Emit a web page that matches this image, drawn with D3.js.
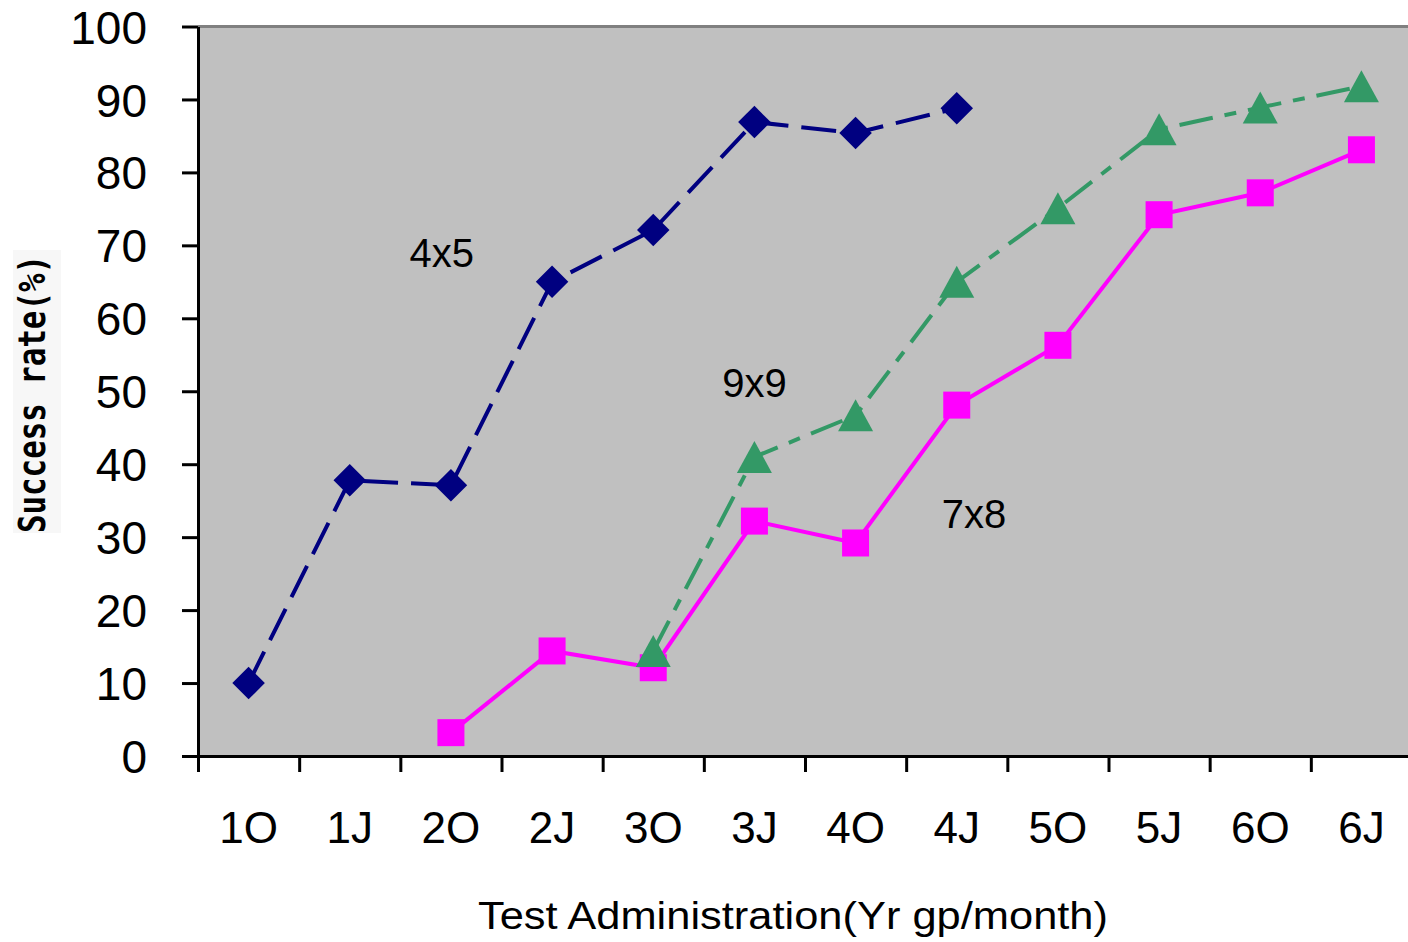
<!DOCTYPE html>
<html>
<head>
<meta charset="utf-8">
<script src="https://cdn.jsdelivr.net/npm/d3@7/dist/d3.min.js"></script>
<style>
  html, body { margin: 0; padding: 0; background: #ffffff; }
  svg { display: block; }
  text { font-family: "Liberation Sans", Arial, sans-serif; fill: #000; }
</style>
</head>
<body>
<svg id="chart" width="1408" height="942"></svg>
<script>
// ---- data ----
const categories = ["1O", "1J", "2O", "2J", "3O", "3J", "4O", "4J", "5O", "5J", "6O", "6J"];
const yTicks = [0, 10, 20, 30, 40, 50, 60, 70, 80, 90, 100];

const s4x5Cats = ["1O", "1J", "2O", "2J", "3O", "3J", "4O", "4J"];
const s4x5Vals = [10.0, 37.8, 37.1, 65.0, 72.1, 86.9, 85.4, 88.8];

const s7x8Cats = ["2O", "2J", "3O", "3J", "4O", "4J", "5O", "5J", "6O", "6J"];
const s7x8Vals = [3.2, 14.4, 12.1, 32.2, 29.2, 48.1, 56.3, 74.2, 77.2, 83.1];

const s9x9Cats = ["3O", "3J", "4O", "4J", "5O", "5J", "6O", "6J"];
const s9x9Vals = [14.4, 41.0, 46.7, 65.0, 75.1, 85.9, 88.9, 91.8];

// series name labels, anchored in data space (category index position, value)
const labelNames = ["4x5", "9x9", "7x8"];
const labelIdx = [2.41, 5.50, 7.67];
const labelVals = [67.0, 49.2, 31.3];

const xTitle = "Test Administration(Yr gp/month)";
const yTitle = "Success rate(%)";

// ---- layout ----
const svg = d3.select("#chart");
const L = 198, R = 1412, T = 26.5, B = 756;

const x = d3.scaleBand().domain(categories).range([L, R]).padding(0);
const xEdge = d3.scaleLinear().domain([0, categories.length]).range([L, R]);
const y = d3.scaleLinear().domain([0, 100]).range([B, T]);

// plot background
svg.append("rect")
  .attr("x", L).attr("y", T).attr("width", R - L).attr("height", B - T)
  .attr("fill", "#C0C0C0");

// top border (grey)
svg.append("line")
  .attr("x1", L).attr("x2", R).attr("y1", T).attr("y2", T)
  .attr("stroke", "#808080").attr("stroke-width", 3);

// Y axis
const yAxis = svg.append("g")
  .attr("transform", `translate(${L},0)`)
  .call(d3.axisLeft(y).tickValues(yTicks).tickSize(16).tickSizeOuter(0).tickPadding(35));
yAxis.select(".domain").attr("stroke", "#000").attr("stroke-width", 3);
yAxis.selectAll(".tick line").attr("stroke", "#000").attr("stroke-width", 3);
yAxis.selectAll(".tick text")
  .style("font-family", '"Liberation Sans", Arial, sans-serif')
  .style("font-size", "46px")
  .attr("dy", "0.36em");

// X axis: ticks on category boundaries
const xAxis = svg.append("g")
  .attr("transform", `translate(0,${B})`)
  .call(d3.axisBottom(xEdge).tickValues(d3.range(categories.length + 1)).tickSize(16).tickSizeOuter(0).tickFormat(""));
xAxis.select(".domain").attr("stroke", "#000").attr("stroke-width", 3);
xAxis.selectAll(".tick line").attr("stroke", "#000").attr("stroke-width", 3);

// X category labels
const xLab = svg.append("g")
  .attr("transform", `translate(0,${B})`)
  .call(d3.axisBottom(x).tickSize(0).tickPadding(0));
xLab.select(".domain").remove();
xLab.selectAll(".tick text")
  .style("font-family", '"Liberation Sans", Arial, sans-serif')
  .style("font-size", "44px")
  .attr("dy", null)
  .attr("y", 87);

// axis titles
svg.append("text")
  .attr("x", 793).attr("y", 929)
  .attr("text-anchor", "middle")
  .attr("textLength", 630).attr("lengthAdjust", "spacingAndGlyphs")
  .style("font-size", "38px")
  .text(xTitle);

svg.append("rect")
  .attr("x", 13).attr("y", 250).attr("width", 48).attr("height", 283)
  .attr("fill", "#F7F7F7");
svg.append("text")
  .attr("transform", "translate(45,394) rotate(-90)")
  .attr("text-anchor", "middle")
  .attr("textLength", 278).attr("lengthAdjust", "spacingAndGlyphs")
  .style("font-size", "38px").style("font-weight", "bold")
  .style("font-family", '"DejaVu Sans Mono", monospace')
  .text(yTitle);

// ---- series ----
const cx = c => x(c) + x.bandwidth() / 2;
const line = d3.line().x(d => cx(d.c)).y(d => y(d.v));
const zip = (cs, vs) => cs.map((c, i) => ({ c: c, v: vs[i] }));

const d45 = zip(s4x5Cats, s4x5Vals);
const d78 = zip(s7x8Cats, s7x8Vals);
const d99 = zip(s9x9Cats, s9x9Vals);

svg.append("path").datum(d78).attr("d", line)
  .attr("fill", "none").attr("stroke", "#FF00FF").attr("stroke-width", 4);
svg.append("path").datum(d99).attr("d", line)
  .attr("fill", "none").attr("stroke", "#339966").attr("stroke-width", 4)
  .attr("stroke-dasharray", "34,12,12,12");
svg.append("path").datum(d45).attr("d", line)
  .attr("fill", "none").attr("stroke", "#000080").attr("stroke-width", 4)
  .attr("stroke-dasharray", "35,13");

// markers
const diamond = d3.symbol().type(d3.symbolSquare).size(23 * 23);
svg.append("g").selectAll("path").data(d45).join("path")
  .attr("d", diamond)
  .attr("transform", d => `translate(${cx(d.c)},${y(d.v)}) rotate(45)`)
  .attr("fill", "#000080");

svg.append("g").selectAll("rect").data(d78).join("rect")
  .attr("x", d => cx(d.c) - 13.5).attr("y", d => y(d.v) - 13.5)
  .attr("width", 27).attr("height", 27)
  .attr("fill", "#FF00FF");

svg.append("g").selectAll("path").data(d99).join("path")
  .attr("d", d => {
    const px = cx(d.c), py = y(d.v);
    return `M${px},${py - 16}L${px + 17.5},${py + 16}L${px - 17.5},${py + 16}Z`;
  })
  .attr("fill", "#339966");

// series labels
svg.append("g").selectAll("text").data(labelNames).join("text")
  .attr("x", (d, i) => xEdge(labelIdx[i]))
  .attr("y", (d, i) => y(labelVals[i]))
  .attr("text-anchor", "middle")
  .style("font-size", "40px")
  .text(d => d);
</script>
</body>
</html>
